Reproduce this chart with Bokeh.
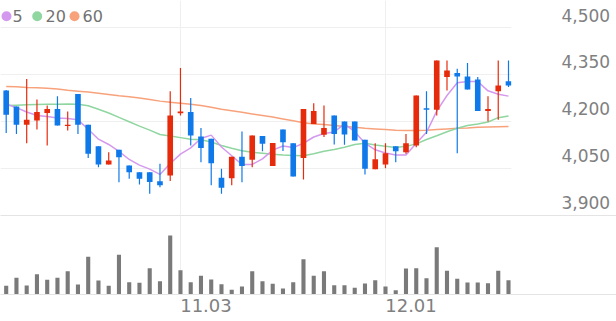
from bokeh.plotting import figure
from bokeh.models import (Range1d, LinearAxis, FixedTicker, ColumnDataSource,
                          NumeralTickFormatter)
from bokeh.core.properties import value
from bokeh.layouts import column
from bokeh.embed import file_html
from bokeh.resources import INLINE

# ---------------- data ----------------
open_ = [4299, 4248, 4189, 4203, 4227, 4240, 4185, 4288, 4189, 4120,
         4062, 4109, 4059, 4037, 4037, 4008, 4027, 4226, 4230, 4152,
         4144, 4019, 4018, 4087, 4077, 4153, 4057, 4174, 4130, 4083,
         4192, 4157, 4219, 4200, 4200, 4141, 4047, 4062, 4120, 4101,
         4123, 4242, 4237, 4342, 4355, 4344, 4334, 4233, 4297, 4329]
high = [4301, 4248, 4336, 4270, 4251, 4281, 4232, 4288, 4189, 4120,
        4101, 4109, 4059, 4037, 4037, 4064, 4297, 4371, 4275, 4179,
        4144, 4048, 4087, 4168, 4155, 4153, 4131, 4174, 4130, 4240,
        4258, 4251, 4219, 4200, 4200, 4141, 4130, 4130, 4120, 4160,
        4283, 4297, 4395, 4395, 4369, 4387, 4342, 4281, 4395, 4395]
low = [4163, 4160, 4130, 4174, 4123, 4187, 4171, 4160, 4083, 4053,
       4062, 4005, 4016, 3998, 3968, 3989, 4009, 4219, 4123, 4069,
       3995, 3968, 3995, 4005, 4053, 4104, 4057, 4105, 4023, 4014,
       4192, 4150, 4126, 4125, 4139, 4030, 4047, 4050, 4069, 4096,
       4117, 4160, 4219, 4299, 4098, 4302, 4233, 4200, 4205, 4310]
close = [4221, 4189, 4205, 4230, 4240, 4187, 4189, 4189, 4096, 4062,
         4075, 4085, 4037, 4016, 4006, 3995, 4219, 4232, 4155, 4115,
         4066, 3987, 4087, 4057, 4155, 4128, 4131, 4133, 4023, 4240,
         4233, 4179, 4160, 4158, 4139, 4048, 4079, 4098, 4104, 4130,
         4283, 4237, 4395, 4363, 4344, 4302, 4233, 4240, 4315, 4315]
volume = [104, 200, 108, 244, 176, 200, 280, 120, 452, 168,
          104, 476, 148, 140, 316, 160, 708, 292, 148, 224,
          180, 124, 56, 96, 280, 160, 128, 72, 148, 424,
          224, 280, 112, 112, 80, 132, 172, 96, 52, 312,
          316, 196, 568, 284, 188, 144, 144, 136, 284, 172]
ma5 = [4256, 4244, 4230, 4219, 4216, 4211, 4209, 4205, 4175, 4143,
       4126, 4104, 4078, 4060, 4047, 4030, 4065, 4095, 4115, 4145,
       4156, 4118, 4090, 4062, 4062, 4080, 4108, 4121, 4116, 4130,
       4150, 4161, 4166, 4192, 4167, 4130, 4109, 4099, 4092, 4092,
       4130, 4165, 4233, 4283, 4324, 4328, 4328, 4298, 4287, 4281]
ma20 = [4251, 4252, 4253, 4254, 4255, 4255, 4256, 4255, 4250, 4239,
        4227, 4213, 4199, 4185, 4172, 4158, 4153, 4148, 4143, 4141,
        4134, 4123, 4114, 4106, 4101, 4098, 4095, 4092, 4091, 4090,
        4096, 4104, 4110, 4117, 4126, 4130, 4124, 4120, 4116, 4120,
        4128, 4142, 4154, 4167, 4178, 4187, 4192, 4198, 4212, 4217]
ma60 = [4312, 4311, 4309, 4308, 4306, 4304, 4300, 4297, 4294, 4290,
        4286, 4282, 4279, 4275, 4270, 4265, 4261, 4258, 4255, 4251,
        4245, 4239, 4234, 4229, 4224, 4219, 4214, 4208, 4202, 4196,
        4192, 4190, 4187, 4184, 4181, 4178, 4176, 4174, 4172, 4171,
        4171, 4172, 4174, 4176, 4178, 4179, 4181, 4182, 4183, 4184]
ma_labels = ["5", "20", "60"]
date_ticks = [17, 37]
date_labels = ["11.03", "12.01"]
price_ticks = [3900, 4050, 4200, 4350, 4500]

# ---------------- style / layout ----------------
RED, BLUE = "#e62b0d", "#0f79ea"
MA_COLORS = ["#d499ee", "#8fd6a0", "#f8a27c"]
VOL_COLOR = "#7a7a7a"
GRID = "#efefef"
RULE = "#e4e4e4"
TXT = "#808080"
FONT = "DejaVu Sans"

W, H = 616, 321
TOP_H = 215
AXIS_W = 105
BOTTOM_AX = 27
PX_PER_BAR = 10.251
X_START = -0.556
P_TOP, P_BOT = 4587.5, 3898.4
LABEL_LIFT = 41.0       # price units (~13 px) the right-hand labels sit above their line
LABEL_SHIFT = 2.49      # bars (~25 px) so date labels start at their grid line
VOL_FRAME_H = H - TOP_H - BOTTOM_AX
PRICE_PER_PX = (P_TOP - P_BOT) / TOP_H

# legend layout (screen px inside the price panel)
LEG_Y = 15.7
LEG_DOT_X = [6.0, 36.7, 74.0]
LEG_TXT_X = [12.0, 45.0, 82.0]


def sx_to_data(px):
    return X_START + px / PX_PER_BAR


def sy_to_data(py):
    return P_TOP - py * PRICE_PER_PX


idx = list(range(len(close)))
src = ColumnDataSource(dict(
    x=idx, h=high, l=low,
    top=[max(o, c) for o, c in zip(open_, close)],
    bot=[min(o, c) for o, c in zip(open_, close)],
    color=[RED if c >= o else BLUE for o, c in zip(open_, close)],
    vol=volume,
))

# ---------------- price panel ----------------
p = figure(width=W, height=TOP_H,
           x_range=Range1d(X_START, X_START + (W - AXIS_W) / PX_PER_BAR),
           y_range=Range1d(P_BOT, P_TOP),
           x_axis_location=None, y_axis_location=None,
           toolbar_location=None, output_backend="svg",
           min_border_left=0, min_border_right=AXIS_W,
           min_border_top=0, min_border_bottom=0)
p.frame_align = False
p.outline_line_color = None
p.background_fill_color = "white"
p.border_fill_color = "white"
p.xgrid.ticker = FixedTicker(ticks=date_ticks)
p.xgrid.grid_line_color = GRID
p.ygrid.ticker = FixedTicker(ticks=price_ticks[1:])
p.ygrid.grid_line_color = GRID

p.extra_y_ranges = {"ylab": Range1d(P_BOT - LABEL_LIFT, P_TOP - LABEL_LIFT)}
yax = LinearAxis(y_range_name="ylab", ticker=FixedTicker(ticks=price_ticks),
                 formatter=NumeralTickFormatter(format="0,0"))
yax.axis_line_color = None
yax.major_tick_line_color = None
yax.minor_tick_line_color = None
yax.major_tick_out = 0
yax.major_tick_in = 0
yax.major_label_standoff = 50
yax.major_label_text_font = FONT
yax.major_label_text_font_size = "17px"
yax.major_label_text_color = TXT
p.add_layout(yax, "right")

p.line(idx, ma60, line_color=MA_COLORS[2], line_width=1.5)
p.line(idx, ma20, line_color=MA_COLORS[1], line_width=1.5)
p.line(idx, ma5, line_color=MA_COLORS[0], line_width=1.5)

p.segment(x0="x", y0="h", x1="x", y1="l", line_color="color", line_width=1.2, source=src)
p.vbar(x="x", top="top", bottom="bot", width=0.55, fill_color="color",
       line_color=None, source=src)

# legend: coloured dots + labels in the top-left corner
p.scatter(x=[sx_to_data(v_) for v_ in LEG_DOT_X], y=[sy_to_data(LEG_Y)] * 3,
          marker="circle", size=10, fill_color=MA_COLORS, line_color=None)
p.text(x=[sx_to_data(v_) for v_ in LEG_TXT_X], y=[sy_to_data(LEG_Y)] * 3, text=ma_labels,
       text_font=value(FONT), text_font_size="16px", text_color="#727272",
       text_align="left", text_baseline="middle")

# ---------------- volume panel ----------------
v = figure(width=W, height=H - TOP_H,
           x_range=Range1d(X_START, X_START + W / PX_PER_BAR),
           y_range=Range1d(0, max(volume) * VOL_FRAME_H / 59.0),
           x_axis_location=None, y_axis_location=None,
           toolbar_location=None, output_backend="svg",
           min_border_left=0, min_border_right=0,
           min_border_top=0, min_border_bottom=BOTTOM_AX)
v.frame_align = False
v.outline_line_color = None
v.xgrid.ticker = FixedTicker(ticks=date_ticks)
v.xgrid.grid_line_color = GRID
v.ygrid.visible = False

v.extra_x_ranges = {"lab": Range1d(X_START - LABEL_SHIFT, X_START + W / PX_PER_BAR - LABEL_SHIFT)}
xax = LinearAxis(x_range_name="lab", ticker=FixedTicker(ticks=date_ticks),
                 major_label_overrides=dict(zip(date_ticks, date_labels)))
xax.axis_line_color = RULE
xax.major_tick_line_color = None
xax.minor_tick_line_color = None
xax.major_tick_out = 0
xax.major_tick_in = 0
xax.major_label_standoff = 4
xax.major_label_text_font = FONT
xax.major_label_text_font_size = "18px"
xax.major_label_text_color = TXT
v.add_layout(xax, "below")

topax = LinearAxis(ticker=FixedTicker(ticks=[]))
topax.axis_line_color = RULE
topax.major_tick_line_color = None
topax.minor_tick_line_color = None
topax.major_tick_out = 0
topax.major_tick_in = 0
topax.major_label_standoff = 0
topax.major_label_text_font_size = "0px"
v.add_layout(topax, "above")

v.vbar(x="x", top="vol", bottom=0, width=0.4, fill_color=VOL_COLOR,
       line_color=None, source=src)

layout = column(p, v, spacing=0)
open("out.html", "w").write(file_html(layout, INLINE))
